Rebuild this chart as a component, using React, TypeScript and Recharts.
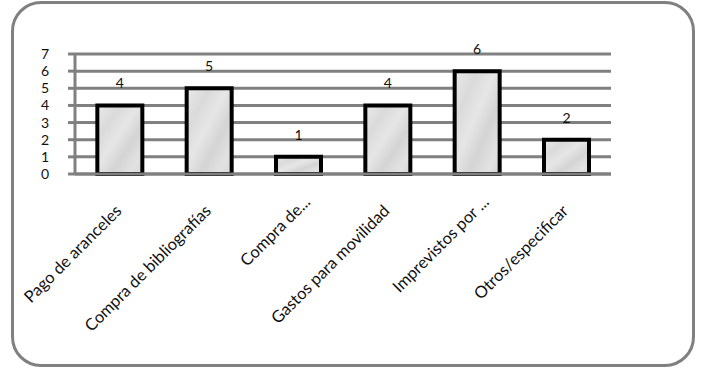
import React from "react";
import {
  BarChart,
  Bar,
  XAxis,
  YAxis,
  CartesianGrid,
  LabelList,
} from "recharts";

const categories = [
  "Pago de aranceles",
  "Compra de bibliografías",
  "Compra de...",
  "Gastos para movilidad",
  "Imprevistos por ...",
  "Otros/especificar",
];
const values = [4, 5, 1, 4, 6, 2];
const yTicks = [0, 1, 2, 3, 4, 5, 6, 7];
const edgeTicks = [0, 1, 2, 3, 4, 5, 6];

const data = categories.map((name, i) => ({ name, value: values[i] }));

const FONT = "Lato, 'Open Sans', sans-serif";
const GREY = "#808080";

const AngledTick = (props: any) => {
  const { x, y, payload } = props;
  // truncated labels sit a bit further up the diagonal in the original
  const cut = String(payload.value).endsWith("...");
  const ax = x + 3 + (cut ? 10 : 0);
  const ay = y + 38 - (cut ? 9 : 0);
  return (
    <text
      x={ax}
      y={ay}
      textAnchor="end"
      transform={`rotate(-45 ${ax} ${ay})`}
      fontFamily={FONT}
      fontSize={16.5}
      fill="#111"
    >
      {payload.value}
    </text>
  );
};

export default function App() {
  return (
    <div
      style={{
        position: "absolute",
        left: 0,
        top: 0,
        width: 704,
        height: 370,
        background: "#fff",
      }}
    >
      {/* rounded frame */}
      <div
        style={{
          position: "absolute",
          left: 11,
          top: 1,
          width: 684,
          height: 366,
          boxSizing: "border-box",
          border: `3px solid ${GREY}`,
          borderRadius: 30,
        }}
      />
      <div style={{ position: "absolute", left: 0, top: 0 }}>
        <BarChart
          width={704}
          height={370}
          data={data}
          margin={{ top: 54, right: 93, bottom: 46, left: 0 }}
          barCategoryGap="25%"
        >
          <defs>
            <linearGradient id="marble" x1="0" y1="0" x2="1" y2="1">
              <stop offset="0%" stopColor="#eaeaea" />
              <stop offset="25%" stopColor="#dadada" />
              <stop offset="45%" stopColor="#e6e6e6" />
              <stop offset="65%" stopColor="#d4d4d4" />
              <stop offset="85%" stopColor="#e2e2e2" />
              <stop offset="100%" stopColor="#d6d6d6" />
            </linearGradient>
          </defs>
          <CartesianGrid
            xAxisId="cat"
            vertical={false}
            stroke={GREY}
            strokeWidth={3}
          />
          <XAxis
            xAxisId="edge"
            type="number"
            domain={[0, 6]}
            ticks={edgeTicks}
            allowDataOverflow
            height={0}
            tick={false}
            tickSize={7}
            tickLine={{ stroke: GREY, strokeWidth: 3 }}
            axisLine={false}
          />
          <XAxis
            xAxisId="cat"
            dataKey="name"
            type="category"
            interval={0}
            height={150}
            tickSize={0}
            tickMargin={0}
            tickLine={false}
            axisLine={{ stroke: GREY, strokeWidth: 3 }}
            tick={<AngledTick />}
          />
          <YAxis
            width={75}
            domain={[0, 7]}
            ticks={yTicks}
            interval={0}
            tickSize={7}
            tickMargin={19}
            tickLine={{ stroke: GREY, strokeWidth: 3 }}
            axisLine={{ stroke: GREY, strokeWidth: 3 }}
            tick={{ fontFamily: FONT, fontSize: 14, fill: "#111" }}
          />
          <Bar
            xAxisId="cat"
            dataKey="value"
            fill="url(#marble)"
            stroke="#000"
            strokeWidth={4}
            isAnimationActive={false}
          >
            <LabelList
              dataKey="value"
              position="top"
              offset={17}
              style={{ fontFamily: FONT, fontSize: 14, fill: "#111" }}
            />
          </Bar>
        </BarChart>
      </div>
    </div>
  );
}
